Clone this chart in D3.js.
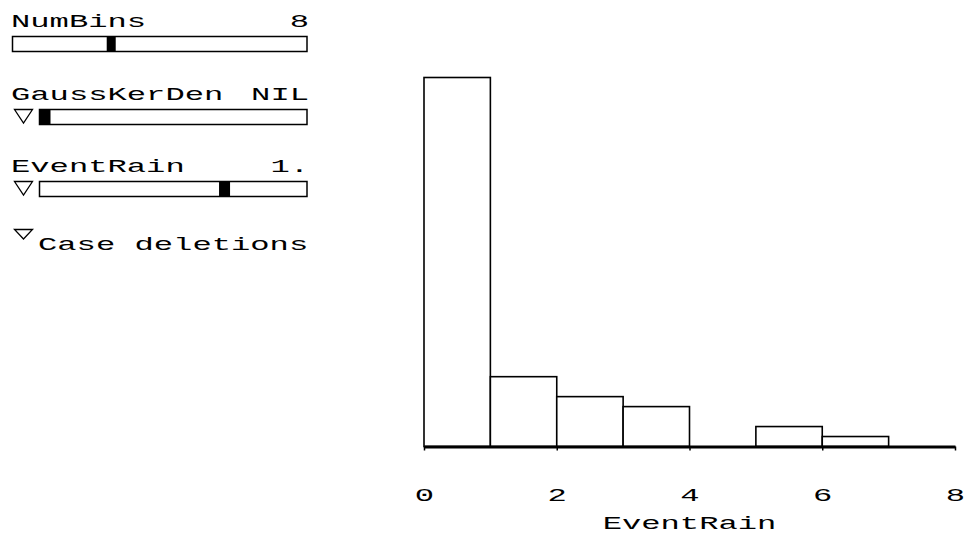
<!DOCTYPE html>
<html>
<head>
<meta charset="utf-8">
<script src="https://cdn.jsdelivr.net/npm/d3@7"></script>
<style>
  body { margin: 0; background: #fff; }
  text { font-family: "Liberation Mono", "DejaVu Sans Mono", monospace; fill: #000; }
</style>
</head>
<body>
<svg id="chart"></svg>
<script>
// histogram data
let binEdges = [0, 1, 2, 3, 4, 5, 6, 7, 8];
let counts = [37, 7, 5, 4, 0, 2, 1, 0];
let xTicks = [0, 2, 4, 6, 8];
let xTitle = 'EventRain';

// control panel on the left
let sliderNames = ['NumBins', 'GaussKerDen', 'EventRain'];
let sliderValues = ['8', 'NIL', '1.'];
let sliderThumbs = [0.33, 0, 0.7];
let sliderHasMenu = [false, true, true];
let caseLabel = 'Case deletions';

let width = 964;
let height = 537;
let charW = 19.3;   // stretched courier look
let fontSize = 19;

const svg = d3.select('#chart')
    .attr('width', width)
    .attr('height', height);

function stretchText(g, str, x, y, anchor) {
  return g.append('text')
      .attr('x', x)
      .attr('y', y)
      .attr('text-anchor', anchor || 'start')
      .attr('font-size', fontSize)
      .attr('textLength', str.length * charW)
      .attr('lengthAdjust', 'spacingAndGlyphs')
      .text(str);
}

function triangle(g, x, y, w, h) {
  g.append('path')
      .attr('d', `M${x},${y}L${x + w},${y}L${x + w / 2},${y + h}Z`)
      .attr('fill', 'none')
      .attr('stroke', '#000')
      .attr('stroke-width', 1.3);
}

// ---- sliders
let panel = svg.append('g');
let rowTop = [27, 100, 172];
sliderNames.forEach((name, i) => {
  let base = rowTop[i];
  stretchText(panel, name, 11, base);
  stretchText(panel, sliderValues[i], 309, base, 'end');

  let bx = sliderHasMenu[i] ? 39.5 : 12.5;
  let bw = 307 - bx;
  let by = base + 9.5;
  let bh = 15;
  if (sliderHasMenu[i]) triangle(panel, 14.5, by, 18, 13.5);
  panel.append('rect')
      .attr('x', bx).attr('y', by)
      .attr('width', bw).attr('height', bh)
      .attr('fill', '#fff')
      .attr('stroke', '#000')
      .attr('stroke-width', 1.5);
  let tw = sliderHasMenu[i] ? 11 : 9;
  panel.append('rect')
      .attr('x', bx + sliderThumbs[i] * (bw - tw)).attr('y', by)
      .attr('width', tw).attr('height', bh)
      .attr('fill', '#000');
});
triangle(panel, 14.5, 229.5, 18, 9.5);
stretchText(panel, caseLabel, 38, 250);

// ---- histogram
let xScale = d3.scaleLinear()
    .domain([binEdges[0], binEdges[binEdges.length - 1]])
    .range([424, 955]);

let yScale = d3.scaleLinear()
    .domain([0, d3.max(counts)])
    .range([446.5, 77.5]);

let bins = counts.map((c, i) => ({x0: binEdges[i], x1: binEdges[i + 1], n: c}))
    .filter(d => d.n > 0);

svg.append('g')
  .selectAll('rect')
  .data(bins)
  .enter()
  .append('rect')
    .attr('x', d => xScale(d.x0))
    .attr('y', d => yScale(d.n))
    .attr('width', d => xScale(d.x1) - xScale(d.x0))
    .attr('height', d => yScale(0) - yScale(d.n))
    .attr('fill', '#fff')
    .attr('stroke', '#000')
    .attr('stroke-width', 1.6);

let xAxis = d3.axisBottom(xScale)
    .tickValues(xTicks)
    .tickFormat(d3.format('d'))
    .tickSize(4)
    .tickSizeOuter(0);

let axisG = svg.append('g')
    .attr('transform', `translate(0,${yScale(0)})`)
    .call(xAxis);

axisG.select('.domain')
    .attr('stroke', '#000')
    .attr('stroke-width', 3);
axisG.selectAll('.tick line')
    .attr('stroke', '#000')
    .attr('stroke-width', 1.5);
axisG.selectAll('.tick text')
    .attr('y', 54)
    .attr('dy', 0)
    .attr('font-family', null)
    .attr('font-size', fontSize)
    .attr('textLength', charW)
    .attr('lengthAdjust', 'spacingAndGlyphs');

stretchText(svg, xTitle, (xScale.range()[0] + xScale.range()[1]) / 2, 529, 'middle');
</script>
</body>
</html>
